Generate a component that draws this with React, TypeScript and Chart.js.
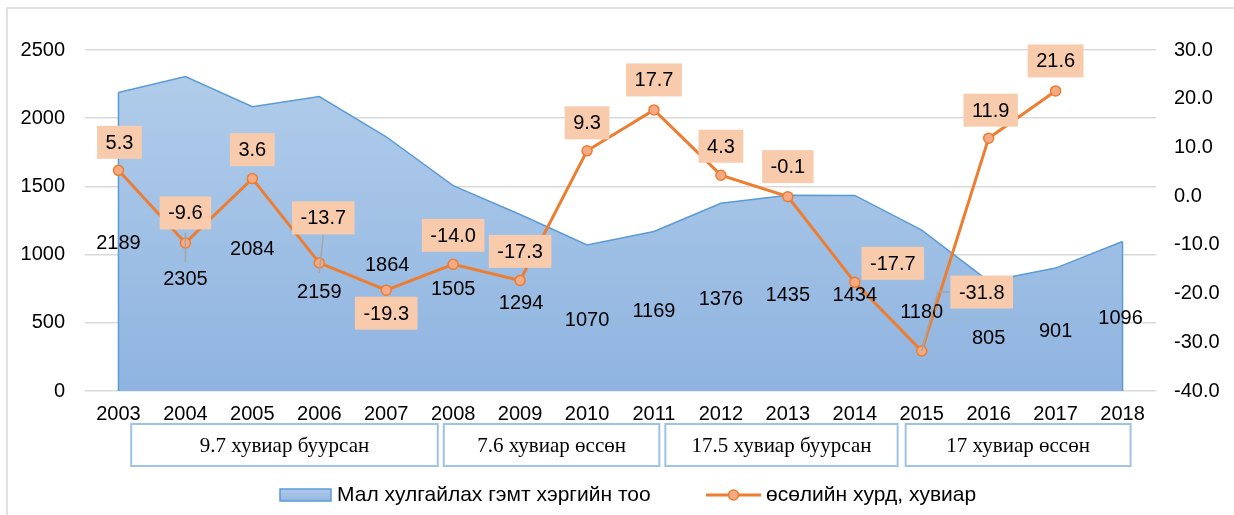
import React, { useEffect, useRef } from 'react';
import { Chart, registerables } from 'chart.js';

Chart.register(...registerables);

// ---------- data ----------
const years = ['2003', '2004', '2005', '2006', '2007', '2008', '2009', '2010', '2011', '2012', '2013', '2014', '2015', '2016', '2017', '2018'];
const cases = [2189, 2305, 2084, 2159, 1864, 1505, 1294, 1070, 1169, 1376, 1435, 1434, 1180, 805, 901, 1096];
const growth: (number | null)[] = [5.3, -9.6, 3.6, -13.7, -19.3, -14.0, -17.3, 9.3, 17.7, 4.3, -0.1, -17.7, -31.8, 11.9, 21.6, null];
const seriesNames = ['Мал хулгайлах гэмт хэргийн тоо', 'өсөлийн хурд, хувиар'];
const periodLabels = ['9.7 хувиар буурсан', '7.6 хувиар өссөн', '17.5 хувиар буурсан', '17 хувиар өссөн'];
// period boxes span, in category index units
const periodFrom = [0.19, 4.86, 8.17, 11.76];
const periodTo = [4.77, 8.08, 11.64, 15.12];
const leftMin = 0, leftMax = 2500, leftStep = 500;
const rightMin = -40, rightMax = 30, rightStep = 10;

// ---------- label placement (pixel offsets from the data point) ----------
const caseLabelDx = [0, 0, 0, 0, 1, 0, 1, 0, 0, 0, 0, 0, 0, 0, 0, -2];
const caseLabelDy = [151, 203, 143, 196, 129, 104, 89, 75, 80, 96, 100, 100, 82, 57, 63, 77];
const growthLabelDx = [1, 0, 0, 4, 0, 0, 0, 0, 0, 0, 0, 38, 60, 2, 0];
const growthLabelDy = [-28, -30, -29, -45, 23, -29, -29, -28, -30, -29, -30, -19, -59, -28, -30];
const leaders: { i: number; pts: number[][] }[] = [
  { i: 1, pts: [[0, -10], [0, 19]] },
  { i: 3, pts: [[4, -28], [0, 10]] },
  { i: 12, pts: [[0, 0], [16, -59], [28, -59]] },
];

const FONT = '"Liberation Sans", Arial, sans-serif';
const SERIF = '"Liberation Serif", "Times New Roman", serif';
const BLUE_LINE = '#5b9bd5';
const ORANGE = '#ed7d31';
const ORANGE_PT = '#f5aa86';
const LABEL_BG = '#f8cbad';

const overlayPlugin = {
  id: 'overlay',
  afterDatasetDraw(chart: any, args: any) {
    if (args.index !== 0) return;
    const ctx = chart.ctx;
    const meta = chart.getDatasetMeta(0);
    const bottom = chart.chartArea.bottom;
    ctx.save();
    ctx.strokeStyle = BLUE_LINE;
    ctx.lineWidth = 1.5;
    [meta.data[0], meta.data[meta.data.length - 1]].forEach((p: any) => {
      ctx.beginPath();
      ctx.moveTo(p.x, p.y);
      ctx.lineTo(p.x, bottom);
      ctx.stroke();
    });
    ctx.restore();
  },
  afterDatasetsDraw(chart: any) {
    const ctx = chart.ctx;
    const areaMeta = chart.getDatasetMeta(0);
    const lineMeta = chart.getDatasetMeta(1);
    ctx.save();
    // case labels
    ctx.font = `20px ${FONT}`;
    ctx.fillStyle = '#000';
    ctx.textAlign = 'center';
    ctx.textBaseline = 'middle';
    areaMeta.data.forEach((p: any, i: number) => {
      ctx.fillText(String(cases[i]), p.x + caseLabelDx[i], p.y + caseLabelDy[i]);
    });
    // leaders
    ctx.strokeStyle = '#a6a6a6';
    ctx.lineWidth = 1.5;
    leaders.forEach((l) => {
      const p = lineMeta.data[l.i];
      ctx.beginPath();
      l.pts.forEach((q, k) => {
        if (k === 0) ctx.moveTo(p.x + q[0], p.y + q[1]);
        else ctx.lineTo(p.x + q[0], p.y + q[1]);
      });
      ctx.stroke();
    });
    // growth labels
    growth.forEach((v, i) => {
      if (v === null) return;
      const p = lineMeta.data[i];
      const txt = v.toFixed(1);
      const w = ctx.measureText(txt).width + 17;
      const h = 33;
      const cx = p.x + growthLabelDx[i];
      const cy = p.y + growthLabelDy[i];
      ctx.fillStyle = LABEL_BG;
      ctx.fillRect(cx - w / 2, cy - h / 2, w, h);
      ctx.fillStyle = '#000';
      ctx.fillText(txt, cx, cy + 1);
    });
    ctx.restore();
  },
  afterDraw(chart: any) {
    const ctx = chart.ctx;
    const x = chart.scales.x;
    const bottom = chart.chartArea.bottom;
    ctx.save();
    // outer frame
    ctx.strokeStyle = '#d9d9d9';
    ctx.lineWidth = 1.5;
    ctx.beginPath();
    ctx.moveTo(7, 515);
    ctx.lineTo(7, 8);
    ctx.lineTo(1234, 8);
    ctx.stroke();
    // period boxes
    periodLabels.forEach((t, k) => {
      const x0 = x.getPixelForValue(periodFrom[k]);
      const x1 = x.getPixelForValue(periodTo[k]);
      const y0 = bottom + 33;
      const y1 = bottom + 75;
      ctx.fillStyle = '#fff';
      ctx.fillRect(x0, y0, x1 - x0, y1 - y0);
      ctx.strokeStyle = '#9dc3e6';
      ctx.lineWidth = 2;
      ctx.strokeRect(x0, y0, x1 - x0, y1 - y0);
      ctx.fillStyle = '#000';
      ctx.font = `21px ${SERIF}`;
      ctx.textAlign = 'center';
      ctx.textBaseline = 'middle';
      ctx.fillText(t, (x0 + x1) / 2, (y0 + y1) / 2 + 1);
    });
    // legend
    const ly = 495;
    ctx.font = `21px ${FONT}`;
    ctx.textAlign = 'left';
    ctx.textBaseline = 'middle';
    const g = ctx.createLinearGradient(0, ly - 6, 0, ly + 6);
    g.addColorStop(0, '#b0cae9');
    g.addColorStop(1, '#94b7e1');
    ctx.fillStyle = g;
    ctx.fillRect(280, ly - 6, 51, 12);
    ctx.strokeStyle = BLUE_LINE;
    ctx.lineWidth = 1.5;
    ctx.strokeRect(280, ly - 6, 51, 12);
    ctx.fillStyle = '#000';
    ctx.fillText(seriesNames[0], 337, ly);
    ctx.strokeStyle = ORANGE;
    ctx.lineWidth = 3;
    ctx.beginPath();
    ctx.moveTo(706, ly);
    ctx.lineTo(761, ly);
    ctx.stroke();
    ctx.beginPath();
    ctx.arc(733.5, ly, 5, 0, Math.PI * 2);
    ctx.fillStyle = ORANGE_PT;
    ctx.fill();
    ctx.lineWidth = 1.5;
    ctx.stroke();
    ctx.fillStyle = '#000';
    ctx.fillText(seriesNames[1], 766, ly);
    ctx.restore();
  },
};

export default function App() {
  const ref = useRef<HTMLCanvasElement | null>(null);
  useEffect(() => {
    if (!ref.current) return;
    const chart = new Chart(ref.current, {
      type: 'line',
      data: {
        labels: years,
        datasets: [
          {
            label: seriesNames[0],
            data: cases,
            yAxisID: 'yL',
            order: 1,
            fill: 'origin',
            tension: 0,
            borderColor: BLUE_LINE,
            borderWidth: 1.5,
            pointRadius: 0,
            backgroundColor: (c: any) => {
              const a = c.chart.chartArea;
              if (!a) return '#a0c0e5';
              const g = c.chart.ctx.createLinearGradient(0, a.top, 0, a.bottom);
              g.addColorStop(0, '#b3ceeb');
              g.addColorStop(1, '#8fb4e0');
              return g;
            },
          },
          {
            label: seriesNames[1],
            data: growth,
            yAxisID: 'yR',
            order: 0,
            fill: false,
            tension: 0,
            borderColor: ORANGE,
            borderWidth: 3,
            pointRadius: 5,
            pointBorderWidth: 1.5,
            pointBackgroundColor: ORANGE_PT,
            pointBorderColor: ORANGE,
            spanGaps: false,
          },
        ],
      },
      options: {
        responsive: false,
        animation: false,
        layout: { padding: { top: 50, right: 0, bottom: 0, left: 0 } },
        plugins: { legend: { display: false }, tooltip: { enabled: false }, title: { display: false } },
        scales: {
          x: {
            type: 'category',
            offset: true,
            grid: { display: false, drawTicks: false },
            border: { display: false },
            ticks: { color: '#000', font: { family: FONT, size: 20 }, padding: 11, maxRotation: 0, autoSkip: false },
            afterFit: (s: any) => { s.height = 124; },
          },
          yL: {
            type: 'linear',
            position: 'left',
            min: leftMin,
            max: leftMax,
            grid: { color: '#d9d9d9', lineWidth: 1.5, drawTicks: false },
            border: { display: false },
            ticks: {
              stepSize: leftStep,
              color: '#000',
              font: { family: FONT, size: 20 },
              padding: 20,
              callback: (v: any) => String(v),
            },
            afterFit: (s: any) => { s.width = 85; },
          },
          yR: {
            type: 'linear',
            position: 'right',
            min: rightMin,
            max: rightMax,
            grid: { display: false, drawTicks: false },
            border: { display: false },
            ticks: {
              stepSize: rightStep,
              color: '#000',
              font: { family: FONT, size: 20 },
              padding: 18,
              callback: (v: any) => Number(v).toFixed(1),
            },
            afterFit: (s: any) => { s.width = 78; },
          },
        },
      },
      plugins: [overlayPlugin],
    });
    return () => chart.destroy();
  }, []);
  return (
    <div style={{ position: 'absolute', left: 0, top: 0, width: 1234, height: 515, background: '#fff' }}>
      <canvas ref={ref} width={1234} height={515} style={{ display: 'block' }} />
    </div>
  );
}
